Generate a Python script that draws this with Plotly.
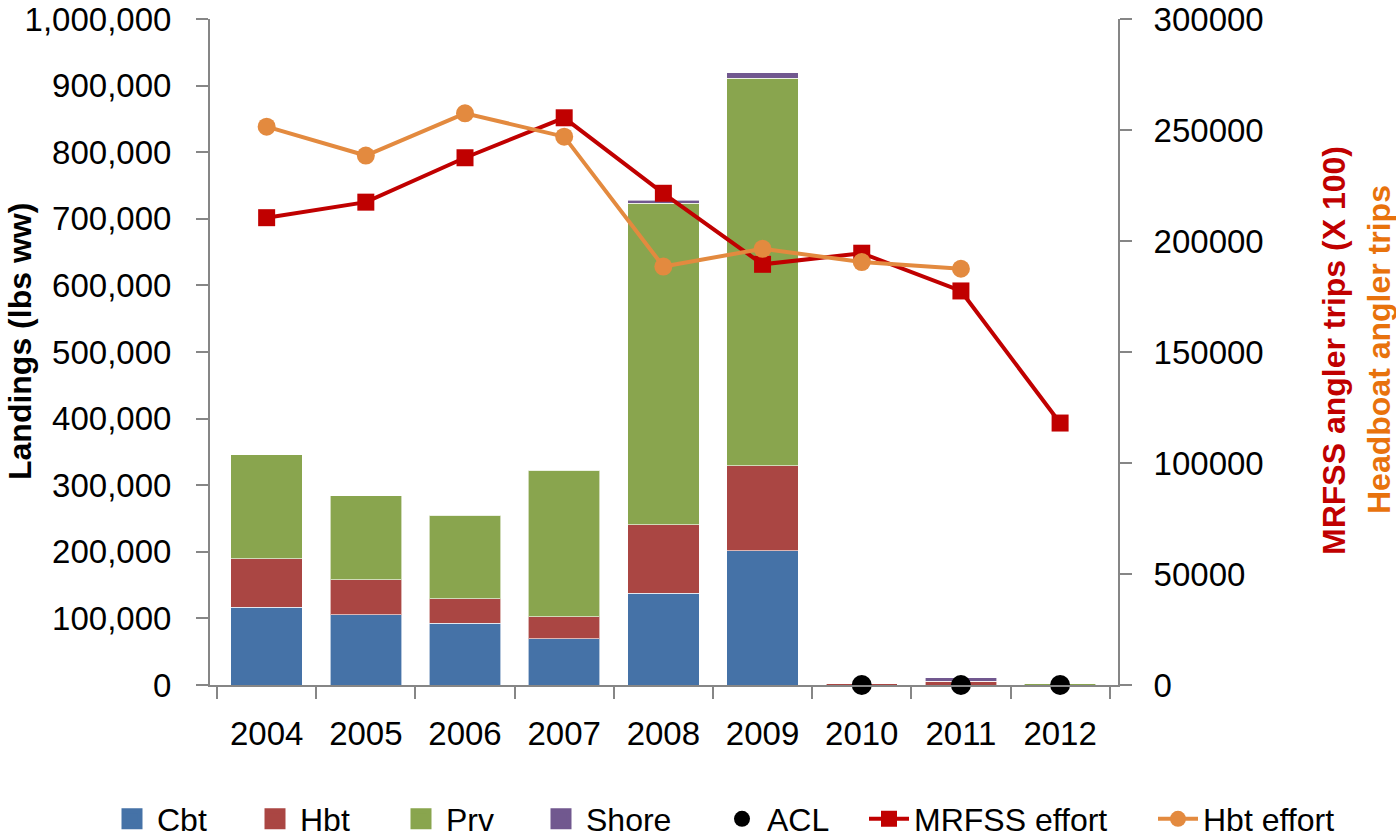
import plotly.graph_objects as go

years = ["2004", "2005", "2006", "2007", "2008", "2009", "2010", "2011", "2012"]
cbt = [117000, 105500, 92500, 69500, 137500, 201500, 0, 0, 0]
hbt = [72500, 52500, 37000, 33000, 103000, 127500, 1800, 6000, 0]
prv = [156000, 126000, 125500, 220000, 482500, 582000, 0, 0, 1800]
shore = [0, 0, 0, 0, 5000, 8500, 0, 5000, 0]
acl_years = ["2010", "2011", "2012"]
acl = [0, 0, 0]
mrfss = [210500, 217500, 237500, 255500, 221500, 189500, 194500, 177500, 118000]
hbt_effort = [251500, 238500, 257500, 247000, 188500, 196500, 190500, 187500, None]

FONT = "Liberation Sans"
axis_gray = "#868686"
W, H = 1396, 839
TICK_SIZE = 33

bar_colors = {"Cbt": "#4572A7", "Hbt": "#AA4643", "Prv": "#89A54E", "Shore": "#71588F"}
# x where each legend entry's text starts in the reference
legend_text_x = [157, 300, 446, 586, 767, 914, 1203]
TEXT_SHIFT = 50
LEG_Y = 819

fig = go.Figure()
bar_line = dict(width=1, color="rgba(255,255,255,0.6)")
for name, vals in zip(["Cbt", "Hbt", "Prv", "Shore"], [cbt, hbt, prv, shore]):
    fig.add_trace(go.Bar(x=years, y=vals, name=name, showlegend=False,
                         marker=dict(color=bar_colors[name], line=bar_line)))
fig.add_trace(go.Scatter(x=acl_years, y=acl, name="ACL", mode="markers", legend="legend5",
                         marker=dict(color="black", size=20, symbol="circle"), cliponaxis=False))
fig.add_trace(go.Scatter(x=years, y=mrfss, name="MRFSS effort", mode="lines+markers", yaxis="y2",
                         legend="legend6",
                         line=dict(color="#C00000", width=4),
                         marker=dict(color="#C00000", size=17, symbol="square"), cliponaxis=False))
fig.add_trace(go.Scatter(x=years, y=hbt_effort, name="Hbt effort", mode="lines+markers", yaxis="y2",
                         legend="legend7",
                         line=dict(color="#E38A3F", width=4),
                         marker=dict(color="#E38A3F", size=18, symbol="circle"), cliponaxis=False))
# legend-only swatches for the stacked bars
for i, name in enumerate(["Cbt", "Hbt", "Prv", "Shore"]):
    fig.add_trace(go.Scatter(x=[None], y=[None], name=name, mode="markers",
                             legend="legend" if i == 0 else f"legend{i + 1}",
                             marker=dict(color=bar_colors[name], size=16, symbol="square",
                                         line=dict(color=bar_colors[name], width=5))))

layout_legends = {}
for i, tx in enumerate(legend_text_x):
    key = "legend" if i == 0 else f"legend{i + 1}"
    layout_legends[key] = dict(orientation="h", xref="container", yref="container",
                               x=(tx - TEXT_SHIFT) / W, xanchor="left",
                               y=1 - LEG_Y / H, yanchor="middle",
                               font=dict(size=32, family=FONT, color="black"),
                               bgcolor="rgba(0,0,0,0)", itemwidth=40)

fig.update_layout(
    width=W, height=H,
    margin=dict(l=210, r=W - 1118, t=19, b=H - 685, autoexpand=False),
    paper_bgcolor="white", plot_bgcolor="white",
    barmode="stack", bargap=0.28,
    font=dict(family=FONT, size=32, color="black"),
    xaxis=dict(type="category", showline=True, linecolor=axis_gray, linewidth=2,
               ticks="outside", tickson="boundaries", ticklen=12, tickcolor=axis_gray, tickwidth=2,
               showgrid=False, ticklabelstandoff=18, tickfont=dict(size=TICK_SIZE),
               ticklabeloverflow="allow"),
    yaxis=dict(range=[0, 1000000], tickvals=list(range(0, 1000001, 100000)),
               tickformat=",d", showline=True, linecolor=axis_gray, linewidth=2,
               ticks="outside", ticklen=12, tickcolor=axis_gray, tickwidth=2,
               showgrid=False, zeroline=False, ticklabelstandoff=18, tickfont=dict(size=TICK_SIZE),
               ticklabeloverflow="allow"),
    yaxis2=dict(range=[0, 300000], tickvals=list(range(0, 300001, 50000)), tickformat="d",
                overlaying="y", side="right", showline=True, linecolor=axis_gray, linewidth=2,
                ticks="outside", ticklen=12, tickcolor=axis_gray, tickwidth=2,
                showgrid=False, zeroline=False, ticklabelstandoff=15, tickfont=dict(size=TICK_SIZE),
                ticklabeloverflow="allow"),
    showlegend=True,
    **layout_legends,
)

fig.add_annotation(text="<b>Landings (lbs ww)</b>", textangle=-90, xref="paper", yref="paper",
                   x=(20 - 210) / 908, y=(685 - 342) / 666, xanchor="center", yanchor="middle",
                   showarrow=False, font=dict(size=32, color="black"))
fig.add_annotation(text="<b>MRFSS angler trips (X 100)</b>", textangle=-90, xref="paper", yref="paper",
                   x=(1334 - 210) / 908, y=(685 - 351) / 666, xanchor="center", yanchor="middle",
                   showarrow=False, font=dict(size=32, color="#C00000"))
fig.add_annotation(text="<b>Headboat angler trips</b>", textangle=-90, xref="paper", yref="paper",
                   x=(1379 - 210) / 908, y=(685 - 350) / 666, xanchor="center", yanchor="middle",
                   showarrow=False, font=dict(size=32, color="#E8720C"))

fig.write_html("out.html", config={"displayModeBar": False},
               post_script="document.body.style.margin='0';document.body.style.overflow='hidden';")
